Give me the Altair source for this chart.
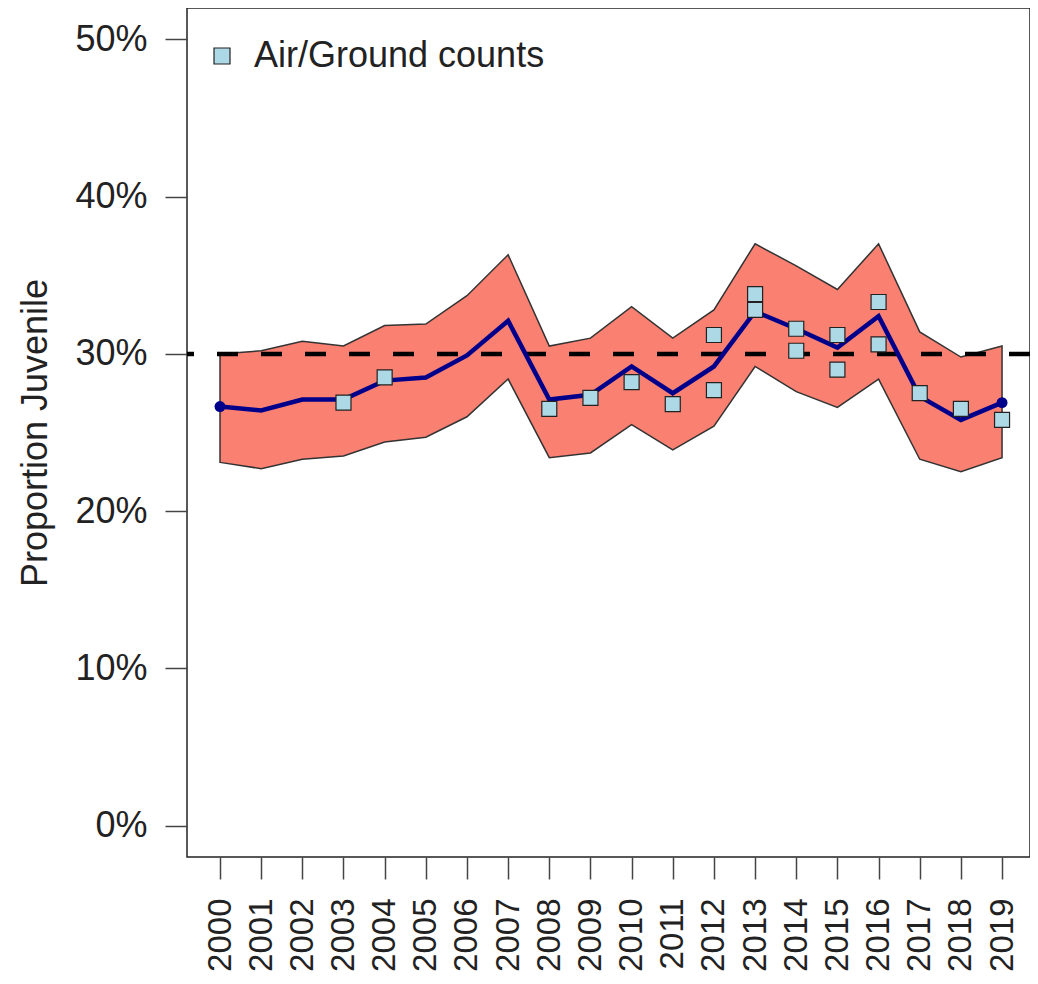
import altair as alt
import pandas as pd

years = list(range(2000, 2020))
mean_pct = [26.65, 26.4, 27.1, 27.1, 28.3, 28.5, 29.9, 32.1, 27.1, 27.4,
            29.2, 27.5, 29.2, 32.7, 31.6, 30.4, 32.4, 27.3, 25.8, 26.9]
upper_pct = [30.0, 30.2, 30.8, 30.5, 31.8, 31.9, 33.7, 36.3, 30.5, 31.0,
             33.0, 31.0, 32.8, 37.0, 35.6, 34.1, 37.0, 31.4, 29.8, 30.5]
lower_pct = [23.1, 22.7, 23.3, 23.5, 24.4, 24.7, 26.0, 28.4, 23.4, 23.7,
             25.5, 23.9, 25.4, 29.2, 27.6, 26.6, 28.4, 23.3, 22.5, 23.4]
count_years = [2003, 2004, 2008, 2009, 2010, 2011, 2012, 2012, 2013, 2013,
               2014, 2014, 2015, 2015, 2016, 2016, 2017, 2018, 2019]
count_pct = [26.9, 28.5, 26.5, 27.2, 28.2, 26.8, 31.2, 27.7, 33.8, 32.8,
             31.6, 30.2, 31.2, 29.0, 33.3, 30.6, 27.5, 26.5, 25.8]
threshold_pct = [30.0]
y_ticks_pct = [0, 10, 20, 30, 40, 50]
series_name = "Air/Ground counts"

band_df = pd.DataFrame({
    "year": years,
    "mean": [v / 100 for v in mean_pct],
    "upper": [v / 100 for v in upper_pct],
    "lower": [v / 100 for v in lower_pct],
})
end_df = band_df.iloc[[0, len(band_df) - 1]]
count_df = pd.DataFrame({
    "year": count_years,
    "value": [v / 100 for v in count_pct],
    "series": [series_name] * len(count_years),
})
thr_df = pd.DataFrame({"y": [v / 100 for v in threshold_pct]})

FONT = "Liberation Sans"
x_scale = alt.Scale(domain=[1999.198, 2019.679], nice=False, zero=False)
y_scale = alt.Scale(domain=[-0.02, 0.52], nice=False, zero=False)

x_axis = alt.Axis(values=years, format="d", labelAngle=270, labelFontSize=33,
                  labelFont=FONT, labelColor="#222", tickSize=22, tickColor="#444",
                  tickWidth=1.5, labelPadding=19, domain=False, grid=False,
                  title=None, labelAlign="right", labelBaseline="middle",
                  labelOverlap=False)
y_axis = alt.Axis(values=[v / 100 for v in y_ticks_pct], format=".0%",
                  labelFontSize=36, labelFont=FONT, labelColor="#222",
                  tickSize=22, tickColor="#444", tickWidth=1.5, labelPadding=18,
                  domain=False, grid=False, title="Proportion Juvenile",
                  titleFontSize=36, titleFont=FONT, titleFontWeight="normal",
                  titleColor="#222", titlePadding=20)

base = alt.Chart(band_df)

band = base.mark_area(fill="#FA8072", stroke="#333", strokeWidth=1.5, opacity=1).encode(
    x=alt.X("year:Q", scale=x_scale, axis=x_axis),
    y=alt.Y("lower:Q", scale=y_scale, axis=y_axis),
    y2="upper:Q",
)

thr = alt.Chart(thr_df).mark_rule(color="black", strokeWidth=4.5,
                                  strokeDash=[21, 23]).encode(y="y:Q")

line = base.mark_line(color="#00008B", strokeWidth=4.5).encode(
    x="year:Q", y="mean:Q")

ends = alt.Chart(end_df).mark_circle(color="#00008B", size=120, opacity=1).encode(
    x="year:Q", y="mean:Q")

pts = alt.Chart(count_df).mark_point(shape="square", filled=True, size=225,
                                     stroke="#222", strokeWidth=1.2, opacity=1).encode(
    x="year:Q", y="value:Q",
    fill=alt.Fill("series:N",
                  scale=alt.Scale(domain=[series_name], range=["#ADD8E6"]),
                  legend=alt.Legend(title=None, orient="none", legendX=17, legendY=30,
                                    symbolType="square", symbolSize=256,
                                    symbolStrokeColor="#222", symbolStrokeWidth=1.2,
                                    labelFontSize=36, labelFont=FONT, labelColor="#222",
                                    labelOffset=14, labelLimit=0, padding=0)),
)

chart = alt.layer(band, thr, line, ends, pts).properties(
    width=843, height=849,
    autosize=alt.AutoSizeParams(type="none"),
    padding={"left": 179, "top": 0, "right": 0, "bottom": 118},
).configure_view(stroke="#222", strokeWidth=1.5)

chart.save("out.html", embed_options={"renderer": "svg", "actions": False})
